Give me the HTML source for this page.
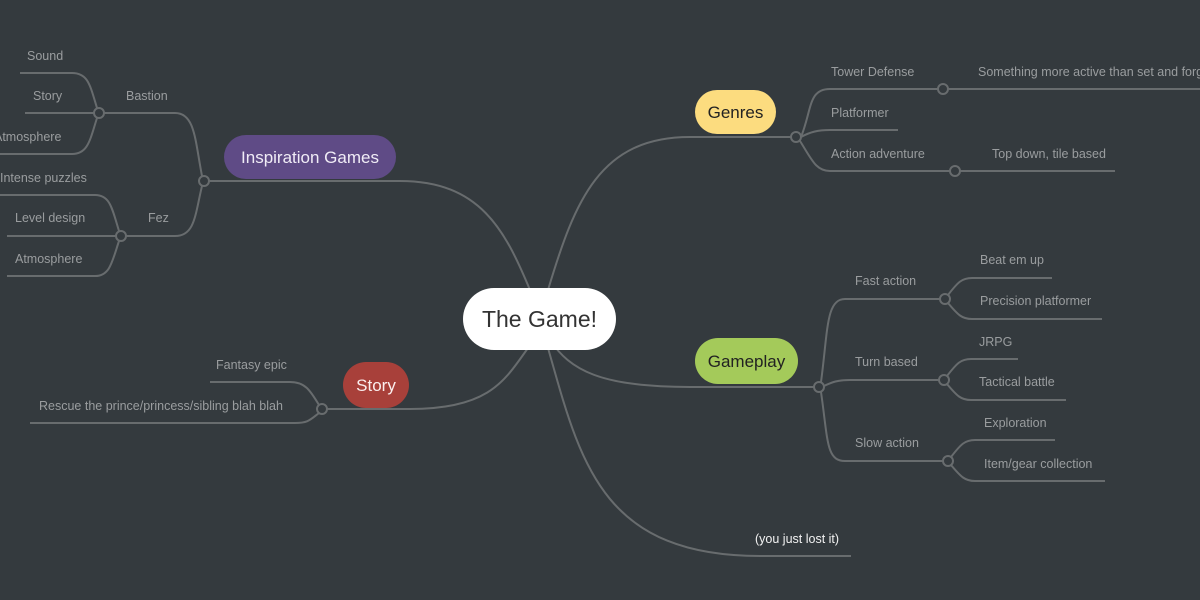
<!DOCTYPE html>
<html><head><meta charset="utf-8"><style>
html,body{margin:0;padding:0;background:#343a3e;}
svg{display:block}
text{font-family:"Liberation Sans",sans-serif;}
.l{font-size:12.5px;fill:#9a9d9f}
</style></head><body>
<svg width="1200" height="600" viewBox="0 0 1200 600" xmlns="http://www.w3.org/2000/svg">
<rect width="1200" height="600" fill="#343a3e"/>
<g fill="none" stroke="#686c6e" stroke-width="2">
<!-- center to main branches -->
<path d="M548,290 C575,200 600,137 690,137 L791,137"/>
<path d="M530,290 C505,230 480,181 400,181 L209,181"/>
<path d="M550,340 C570,370 600,387 690,387 L814,387"/>
<path d="M528,348 C505,380 490,409 410,409 L327,409"/>
<path d="M548,348 C580,460 600,556 760,556 L851,556"/>
<!-- genres -->
<path d="M801,137 C812,110 808,89 830,89 L938,89"/>
<circle cx="943" cy="89" r="5"/>
<path d="M948,89 L1200,89"/>
<path d="M801,137 C810,132 818,130 830,130 L898,130"/>
<path d="M800,141 C812,160 816,171 830,171 L950,171"/>
<circle cx="955" cy="171" r="5"/>
<path d="M960,171 L1115,171"/>
<circle cx="796" cy="137" r="5"/>
<!-- inspiration -->
<circle cx="204" cy="181" r="5"/>
<path d="M202,176 C195,140 195,113 175,113 L104,113"/>
<path d="M202,186 C195,215 195,236 175,236 L126,236"/>
<circle cx="99" cy="113" r="5"/>
<path d="M97,108 C90,85 88,73 72,73 L20,73"/>
<path d="M94,113 L25,113"/>
<path d="M97,118 C90,140 88,154 72,154 L0,154"/>
<circle cx="121" cy="236" r="5"/>
<path d="M119,231 C112,208 110,195 95,195 L0,195"/>
<path d="M116,236 L7,236"/>
<path d="M119,241 C112,262 110,276 95,276 L7,276"/>
<!-- story -->
<circle cx="322" cy="409" r="5"/>
<path d="M319,405 C310,390 305,382 290,382 L210,382"/>
<path d="M319,413 C310,420 308,423 295,423 L30,423"/>
<!-- gameplay -->
<circle cx="819" cy="387" r="5"/>
<path d="M821,382 C828,330 826,299 845,299 L940,299"/>
<path d="M824,386 C832,382 838,380 850,380 L939,380"/>
<path d="M821,392 C828,440 826,461 845,461 L943,461"/>
<circle cx="945" cy="299" r="5"/>
<path d="M948,295 C958,282 962,278 972,278 L1052,278"/>
<path d="M948,303 C958,315 962,319 972,319 L1102,319"/>
<circle cx="944" cy="380" r="5"/>
<path d="M947,376 C957,363 961,359 971,359 L1018,359"/>
<path d="M947,384 C957,396 961,400 971,400 L1066,400"/>
<circle cx="948" cy="461" r="5"/>
<path d="M951,457 C961,444 965,440 975,440 L1055,440"/>
<path d="M951,465 C961,477 965,481 975,481 L1105,481"/>
</g>
<!-- nodes -->
<rect x="463" y="288" width="153" height="62" rx="31" fill="#ffffff"/>
<text x="539.5" y="327" font-size="23" text-anchor="middle" fill="#333">The Game!</text>
<rect x="695" y="90" width="81" height="44" rx="22" fill="#fcdc7f"/>
<text x="735.5" y="118" font-size="17" text-anchor="middle" fill="#222">Genres</text>
<rect x="224" y="135" width="172" height="44" rx="22" fill="#5f4b86"/>
<text x="310" y="163" font-size="17" text-anchor="middle" fill="#f0ecf6">Inspiration Games</text>
<rect x="343" y="362" width="66" height="46" rx="23" fill="#a8403a"/>
<text x="376" y="391" font-size="17" text-anchor="middle" fill="#fbeeee">Story</text>
<rect x="695" y="338" width="103" height="46" rx="23" fill="#a4ca5a"/>
<text x="746.5" y="367" font-size="17" text-anchor="middle" fill="#222">Gameplay</text>
<!-- labels -->
<g class="l">
<text x="831" y="76">Tower Defense</text>
<text x="978" y="76">Something more active than set and forget</text>
<text x="831" y="117">Platformer</text>
<text x="831" y="158">Action adventure</text>
<text x="992" y="158">Top down, tile based</text>
<text x="126" y="100">Bastion</text>
<text x="148" y="222">Fez</text>
<text x="27" y="60">Sound</text>
<text x="33" y="100">Story</text>
<text x="-6" y="141">Atmosphere</text>
<text x="0" y="182">Intense puzzles</text>
<text x="15" y="222">Level design</text>
<text x="15" y="263">Atmosphere</text>
<text x="216" y="369">Fantasy epic</text>
<text x="39" y="410">Rescue the prince/princess/sibling blah blah</text>
<text x="855" y="285">Fast action</text>
<text x="855" y="366">Turn based</text>
<text x="855" y="447">Slow action</text>
<text x="980" y="264">Beat em up</text>
<text x="980" y="305">Precision platformer</text>
<text x="979" y="346">JRPG</text>
<text x="979" y="386">Tactical battle</text>
<text x="984" y="427">Exploration</text>
<text x="984" y="468">Item/gear collection</text>
</g>
<text x="755" y="543" font-size="12.5" fill="#f2f2f2">(you just lost it)</text>
</svg>
</body></html>
